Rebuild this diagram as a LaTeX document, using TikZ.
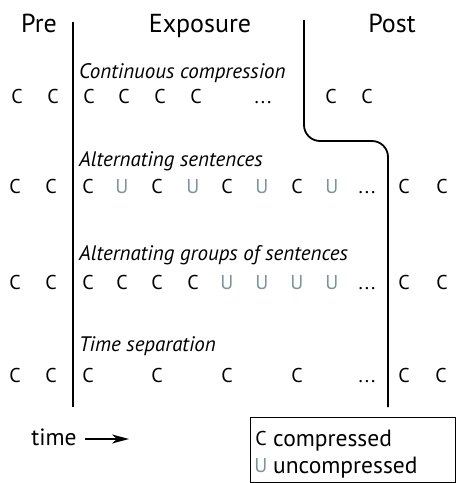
\documentclass[tikz,border=0pt]{standalone}
\usepackage{fontspec}
\setmainfont{PT Sans}
\usepackage{tikz}
\usetikzlibrary{arrows.meta, positioning}
\definecolor{ugray}{RGB}{125,148,158}

\begin{document}
\begin{tikzpicture}[
	x=1pt, y=-1pt,
	head/.style={anchor=base, font=\fontsize{26}{28}\selectfont},
	cond/.style={anchor=base west, inner sep=0pt, font=\fontsize{21}{23}\itshape},
	cc/.style={anchor=base, inner sep=0pt, font=\fontsize{20}{22}\selectfont},
	uu/.style={cc, text=ugray},
	key/.style={inner sep=0pt, font=\fontsize{23.5}{25}\selectfont},
	bar/.style={line width=1.8pt},
	arrow/.style={-{Stealth[length=17pt, width=9pt, inset=5pt]}, line width=1.3pt}
]
\useasboundingbox (0,0) rectangle (456,483);

% Headings
\node[head] (pre) at (39,32) {Pre};
\node[head] (exposure) at (200,32) {Exposure};
\node[head] (post) at (392,32) {Post};

% Phase borders
\coordinate (lt) at (73,22);
\coordinate (lb) at (73,407);
\coordinate (rt) at (304,20);
\coordinate (rb) at (388,407);
\draw[bar] (lt) -- (lb);
\draw[bar, rounded corners=16pt] (rt) -- (rt |- 0,141) -- (rb |- 0,141) -- (rb);

% Continuous compression
\node[cond] (lab1) at (79,78) {Continuous compression};
\node[cc] (a1) at (17,103) {C}; \node[cc] (a2) at (53,103) {C};
\node[cc] (a3) at (89,103) {C}; \node[cc] (a4) at (124,103) {C};
\node[cc] (a5) at (160,103) {C}; \node[cc] (a6) at (196,103) {C};
\node[cc] (a7) at (263,103) {.\hspace{2pt}.\hspace{2pt}.};
\node[cc] (a8) at (331,103) {C}; \node[cc] (a9) at (367,103) {C};

% Alternating sentences
\node[cond] (lab2) at (79,166) {Alternating sentences};
\node[cc] (b1) at (15,193) {C}; \node[cc] (b2) at (51,193) {C};
\node[cc] (b3) at (88,193) {C}; \node[uu] (b4) at (122,193) {U};
\node[cc] (b5) at (157,193) {C}; \node[uu] (b6) at (193,193) {U};
\node[cc] (b7) at (227,193) {C}; \node[uu] (b8) at (262,193) {U};
\node[cc] (b9) at (297,193) {C}; \node[uu] (b10) at (332,193) {U};
\node[cc] (b11) at (367,193) {.\hspace{2pt}.\hspace{2pt}.};
\node[cc] (b12) at (404,193) {C}; \node[cc] (b13) at (442,193) {C};

% Alternating groups of sentences
\node[cond] (lab3) at (79,260) {Alternating groups of sentences};
\node[cc] (c1) at (15,289) {C}; \node[cc] (c2) at (51,289) {C};
\node[cc] (c3) at (88,289) {C}; \node[cc] (c4) at (122,289) {C};
\node[cc] (c5) at (157,289) {C}; \node[cc] (c6) at (193,289) {C};
\node[uu] (c7) at (227,289) {U}; \node[uu] (c8) at (262,289) {U};
\node[uu] (c9) at (297,289) {U}; \node[uu] (c10) at (332,289) {U};
\node[cc] (c11) at (367,289) {.\hspace{2pt}.\hspace{2pt}.};
\node[cc] (c12) at (404,289) {C}; \node[cc] (c13) at (442,289) {C};

% Time separation
\node[cond] (lab4) at (79,351) {Time separation};
\node[cc] (d1) at (15,382) {C}; \node[cc] (d2) at (51,382) {C};
\node[cc] (d3) at (88,382) {C}; \node[cc] (d4) at (157,382) {C};
\node[cc] (d5) at (227,382) {C}; \node[cc] (d6) at (297,382) {C};
\node[cc] (d7) at (367,382) {.\hspace{2pt}.\hspace{2pt}.};
\node[cc] (d8) at (404,382) {C}; \node[cc] (d9) at (441,382) {C};

% Time axis
\node[key, anchor=base] (time) at (54,445) {time};
\coordinate (tstart) at (85,439);
\coordinate (tend) at (129,439);
\draw[arrow] (tstart) -- (tend);

% Legend
\node[draw, thick, anchor=north west, minimum width=205pt, minimum height=65pt] (legend) at (250,417) {};
\node[cc] (keyc) at (261,445) {C};
\node[key, anchor=base west] (keyct) at (273,446) {compressed};
\node[uu] (keyu) at (261,472) {U};
\node[key, anchor=base west] (keyut) at (273,473) {uncompressed};

\end{tikzpicture}
\end{document}
